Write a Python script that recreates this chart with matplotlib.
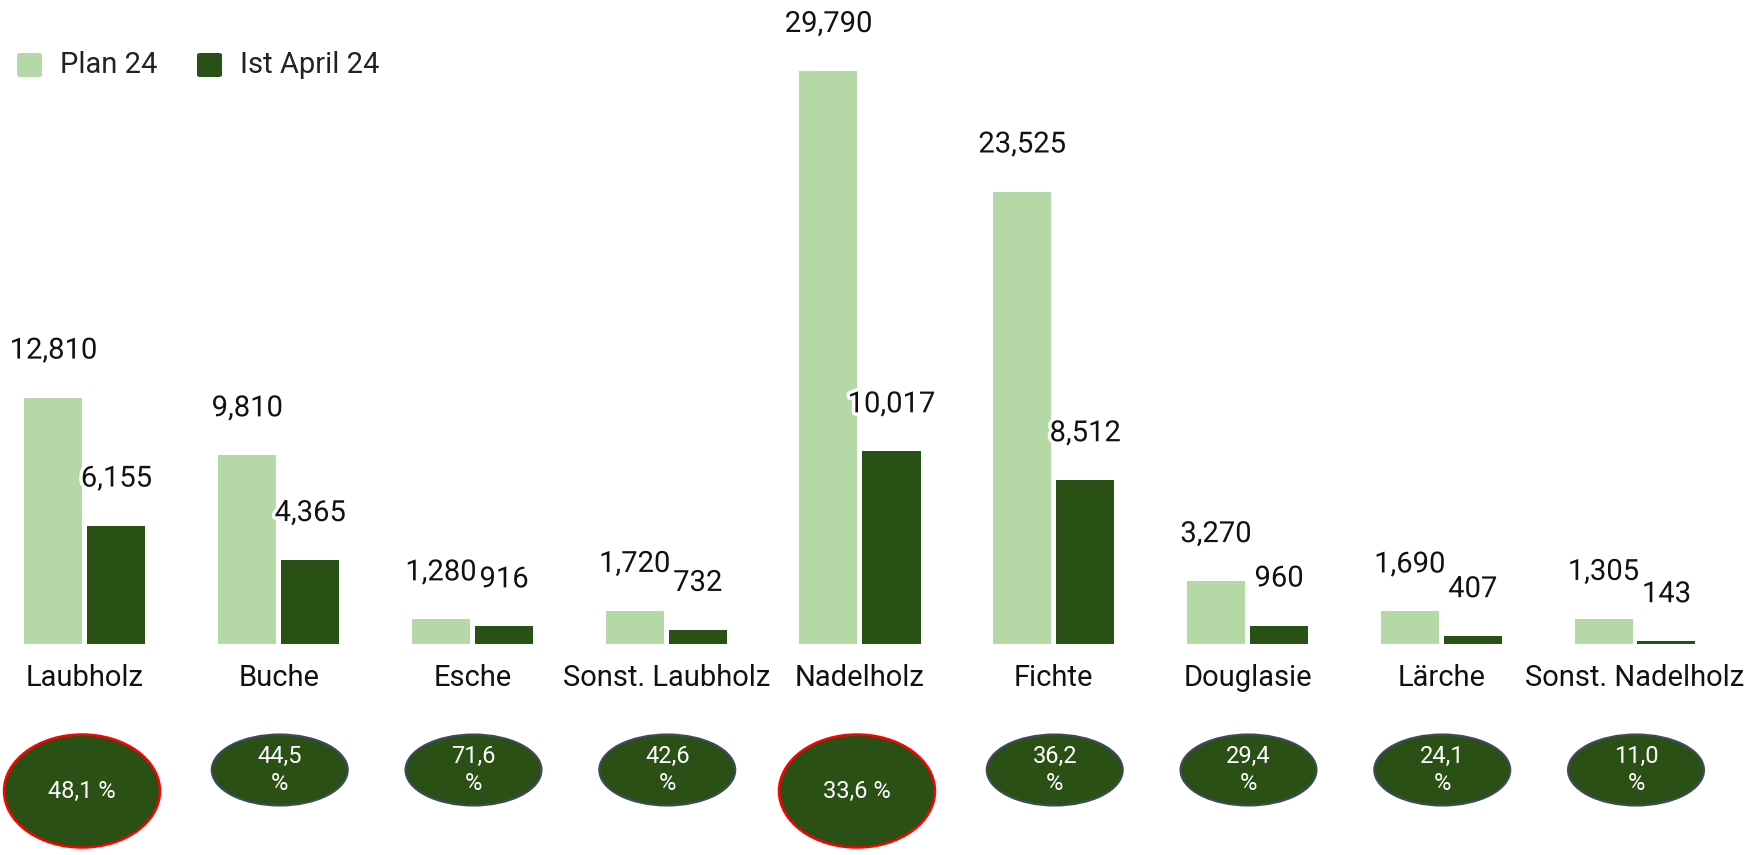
import matplotlib
matplotlib.use("Agg")
import matplotlib.pyplot as plt
from matplotlib.patches import Ellipse, FancyBboxPatch
import matplotlib.patheffects as pe

plt.rcParams['font.family'] = ['Roboto', 'DejaVu Sans']

categories = ["Laubholz", "Buche", "Esche", "Sonst. Laubholz", "Nadelholz",
              "Fichte", "Douglasie", "Lärche", "Sonst. Nadelholz"]
plan = [12810, 9810, 1280, 1720, 29790, 23525, 3270, 1690, 1305]
ist = [6155, 4365, 916, 732, 10017, 8512, 960, 407, 143]
pct_labels = ["48,1 %", "44,5\n%", "71,6\n%", "42,6\n%", "33,6 %",
              "36,2\n%", "29,4\n%", "24,1\n%", "11,0\n%"]
highlight = [True, False, False, False, True, False, False, False, False]
series_names = ["Plan 24", "Ist April 24"]

LIGHT = "#b5d8a7"
DARK = "#2a5115"
ELL_FILL = "#2a5016"

W, H = 1758, 855
fig = plt.figure(figsize=(W / 100, H / 100), dpi=100)

BASE = 644          # baseline, px from top
S = 573 / 29790     # px per unit
XS = 193.75         # px per category
X0 = 85             # px of first group centre

ax = fig.add_axes([0, (H - BASE) / H, 1, BASE / H])
ax.set_xlim(-X0 / XS, (W - X0) / XS)
ax.set_ylim(0, BASE / S)
ax.axis("off")

def py(px_below_base):
    return -px_below_base / S

idx = list(range(len(categories)))
bw = 58 / XS
off = 31.5 / XS
halo = [pe.withStroke(linewidth=5, foreground="white")]

b1 = ax.bar([i - off for i in idx], plan, width=bw, color=LIGHT, clip_on=False)
b2 = ax.bar([i + off for i in idx], ist, width=bw, color=DARK, clip_on=False)

for i in idx:
    ax.text(i - off, plan[i] + 39 / S, f"{plan[i]:,}", ha="center", va="baseline",
            fontsize=21, color="#111111", path_effects=halo, zorder=5)
    ax.text(i + off, ist[i] + 39 / S, f"{ist[i]:,}", ha="center", va="baseline",
            fontsize=21, color="#111111", path_effects=halo, zorder=5)
    ax.text(i, py(34), categories[i], ha="center", va="center",
            fontsize=21, color="#111111", clip_on=False)
    if highlight[i]:
        e = Ellipse((i - 3 / XS, py(147)), 156 / XS, 113 / S, facecolor=ELL_FILL,
                    edgecolor="#ff0000", linewidth=1.8, clip_on=False)
        ax.add_patch(e)
        ax.text(i - 3 / XS, py(147), pct_labels[i], ha="center", va="center",
                fontsize=17, color="white", clip_on=False)
    else:
        e = Ellipse((i + 1 / XS, py(126)), 136 / XS, 71 / S, facecolor=ELL_FILL,
                    edgecolor="#3d4b5c", linewidth=1.5, clip_on=False)
        ax.add_patch(e)
        ax.text(i + 1 / XS, py(126), pct_labels[i], ha="center", va="center",
                fontsize=17, color="white", linespacing=1.25, clip_on=False)

# legend
for (x, col, name, tx) in [(17, LIGHT, series_names[0], 60), (197, DARK, series_names[1], 240)]:
    p = FancyBboxPatch((x / W, 1 - 77 / H), 25 / W, 24 / H,
                       boxstyle="round,pad=0,rounding_size=0.002",
                       transform=fig.transFigure, facecolor=col, edgecolor="none")
    fig.patches.append(p)
    fig.text(tx / W, 1 - 65 / H, name, ha="left", va="center", fontsize=21, color="#222222")

fig.savefig("out.png", dpi=100)
